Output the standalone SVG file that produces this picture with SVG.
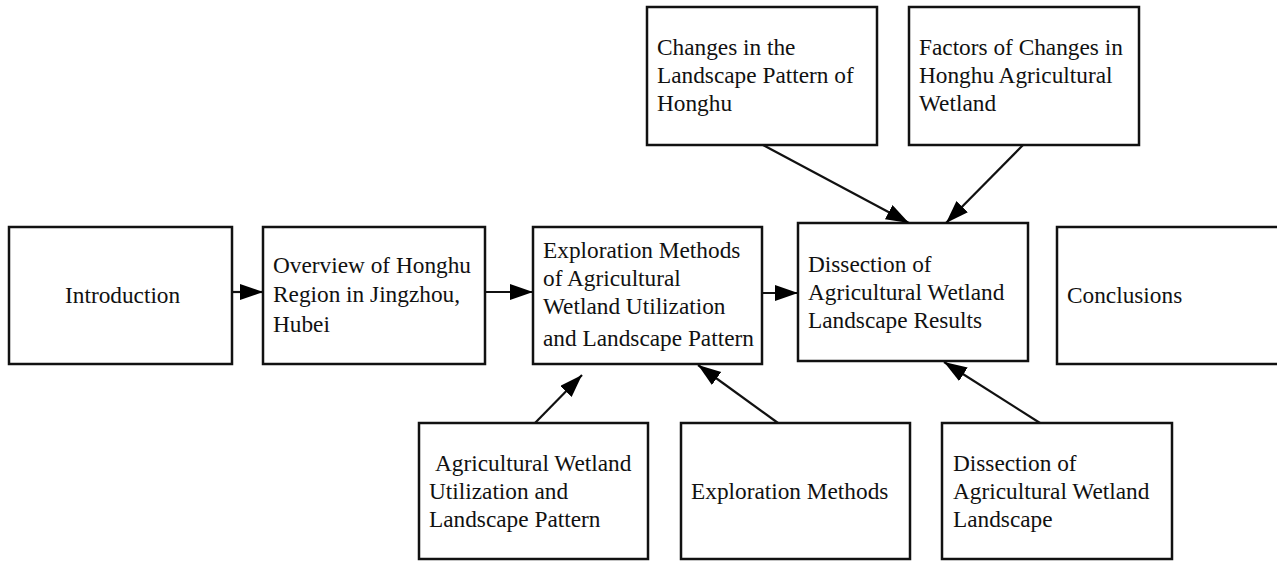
<svg xmlns="http://www.w3.org/2000/svg" width="1277" height="561" viewBox="0 0 1277 561">
<defs>
<marker id="ah" markerUnits="userSpaceOnUse" markerWidth="26" markerHeight="18" refX="23" refY="8" orient="auto">
<path d="M0,0 L23,8 L0,16 z" fill="#000"/>
</marker>
<style>
.box{fill:#fff;stroke:#111;stroke-width:2.5}
.t{font-family:"Liberation Serif","Times New Roman",serif;font-size:23.3px;fill:#111}
.c{stroke:#111;stroke-width:2.2;fill:none;marker-end:url(#ah)}
</style>
</defs>
<rect width="1277" height="561" fill="#fff"/>
<g id="introduction"><rect class="box" x="9" y="227" width="223" height="137"/><text class="t" x="65" y="303">Introduction</text></g>
<g id="overview"><rect class="box" x="263" y="227" width="222" height="137"/><text class="t" x="273"><tspan x="273" y="273">Overview of Honghu</tspan><tspan x="273" y="302">Region in Jingzhou,</tspan><tspan x="273" y="332">Hubei</tspan></text></g>
<g id="exploration-main"><rect class="box" x="533" y="227" width="229" height="137"/><text class="t"><tspan x="543" y="258">Exploration Methods</tspan><tspan x="543" y="286">of Agricultural</tspan><tspan x="543" y="314">Wetland Utilization</tspan><tspan x="543" y="346">and Landscape Pattern</tspan></text></g>
<g id="dissection-results"><rect class="box" x="798" y="223" width="230" height="138"/><text class="t"><tspan x="808" y="272">Dissection of</tspan><tspan x="808" y="300">Agricultural Wetland</tspan><tspan x="808" y="328">Landscape Results</tspan></text></g>
<g id="conclusions"><rect class="box" x="1057" y="227" width="240" height="137"/><text class="t" x="1067" y="303">Conclusions</text></g>
<g id="changes"><rect class="box" x="647" y="7" width="230" height="138"/><text class="t"><tspan x="657" y="55">Changes in the</tspan><tspan x="657" y="83">Landscape Pattern of</tspan><tspan x="657" y="111">Honghu</tspan></text></g>
<g id="factors"><rect class="box" x="909" y="7" width="230" height="138"/><text class="t"><tspan x="919" y="55">Factors of Changes in</tspan><tspan x="919" y="83">Honghu Agricultural</tspan><tspan x="919" y="111">Wetland</tspan></text></g>
<g id="agri-utilization"><rect class="box" x="419" y="423" width="229" height="136"/><text class="t"><tspan x="435" y="471">Agricultural Wetland</tspan><tspan x="429" y="499">Utilization and</tspan><tspan x="429" y="527">Landscape Pattern</tspan></text></g>
<g id="exploration-methods"><rect class="box" x="681" y="423" width="229" height="136"/><text class="t" x="691" y="499">Exploration Methods</text></g>
<g id="dissection-landscape"><rect class="box" x="942" y="423" width="230" height="136"/><text class="t"><tspan x="953" y="471">Dissection of</tspan><tspan x="953" y="499">Agricultural Wetland</tspan><tspan x="953" y="527">Landscape</tspan></text></g>
<g id="connectors">
<line class="c" x1="232" y1="292" x2="263" y2="292"/>
<line class="c" x1="485" y1="292" x2="533" y2="292"/>
<line class="c" x1="762" y1="293" x2="798" y2="293"/>
<line class="c" x1="763" y1="145" x2="909" y2="223"/>
<line class="c" x1="1023" y1="145" x2="946" y2="223"/>
<line class="c" x1="535" y1="423" x2="582" y2="375"/>
<line class="c" x1="778" y1="423" x2="698" y2="365"/>
<line class="c" x1="1040" y1="423" x2="944" y2="362"/>
</g>
</svg>
